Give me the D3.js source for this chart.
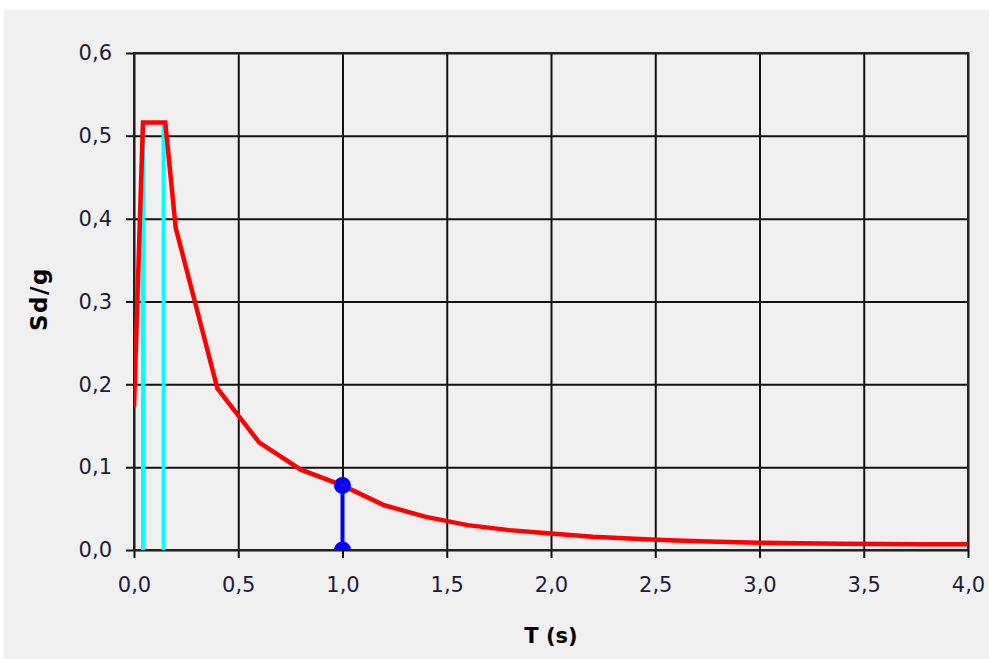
<!DOCTYPE html>
<html>
<head>
<meta charset="utf-8">
<script src="https://cdn.jsdelivr.net/npm/d3@7"></script>
<style>
  html, body { margin: 0; padding: 0; background: #ffffff; }
  svg { display: block; }
</style>
</head>
<body>
<svg id="chart" width="989" height="659"></svg>
<script>
// ---- data ----
const periodT = [0, 0.043, 0.15, 0.2, 0.4, 0.6, 0.8, 1.0, 1.2, 1.4, 1.6, 1.8, 2.0, 2.2, 2.4, 2.6, 2.8, 3.0, 3.2, 3.4, 3.6, 3.8, 4.0];
const spectrumSd = [0.172, 0.516, 0.516, 0.389, 0.195, 0.130, 0.097, 0.078, 0.054, 0.040, 0.030, 0.024, 0.020, 0.016, 0.0135, 0.0115, 0.010, 0.0088, 0.008, 0.0075, 0.0072, 0.007, 0.0068];
const cyanT = [0.043, 0.142];
const cyanTop = 0.516;
const markerT = 1.0;
const markerSd = 0.078;
const xTicks = [0, 0.5, 1.0, 1.5, 2.0, 2.5, 3.0, 3.5, 4.0];
const yTicks = [0, 0.1, 0.2, 0.3, 0.4, 0.5, 0.6];
const xTitle = "T (s)";
const yTitle = "Sd/g";

// ---- layout ----
const svg = d3.select("#chart");
const pL = 134, pR = 968, pT = 53, pB = 550;
const x = d3.scaleLinear().domain([0, 4]).range([pL, pR]);
const y = d3.scaleLinear().domain([0, 0.6]).range([pB, pT]);
const fmt = v => d3.format(".1f")(v).replace(".", ",");
const tickFont = "'DejaVu Sans', sans-serif";

svg.append("rect").attr("x", 4).attr("y", 10).attr("width", 985).attr("height", 649).attr("fill", "#f0f0f0");

const clipId = "plotclip";
svg.append("clipPath").attr("id", clipId).append("rect")
  .attr("x", pL).attr("y", pT).attr("width", pR - pL).attr("height", pB - pT);

// y axis with grid
const yAxis = d3.axisLeft(y).tickValues(yTicks).tickFormat(fmt)
  .tickSizeInner(-(pR - pL + 8)).tickSizeOuter(0).tickPadding(14);
const gy = svg.append("g").attr("transform", `translate(${pL - 8},0)`).call(yAxis);
gy.select(".domain").remove();
gy.selectAll(".tick line").attr("stroke", "#111").attr("stroke-width", 2);
gy.selectAll(".tick text").attr("fill", "#1c1c3a").style("font-family", tickFont).style("font-size", "21px");

// x axis with grid
const xAxis = d3.axisBottom(x).tickValues(xTicks).tickFormat(fmt)
  .tickSizeInner(-(pB - pT + 8)).tickSizeOuter(0).tickPadding(19);
const gx = svg.append("g").attr("transform", `translate(0,${pB + 8})`).call(xAxis);
gx.select(".domain").remove();
gx.selectAll(".tick line").attr("stroke", "#111").attr("stroke-width", 2);
gx.selectAll(".tick text").attr("fill", "#1c1c3a").style("font-family", tickFont).style("font-size", "21px");

// frame
svg.append("rect").attr("x", pL).attr("y", pT).attr("width", pR - pL).attr("height", pB - pT)
  .attr("fill", "none").attr("stroke", "#222").attr("stroke-width", 2);

const plot = svg.append("g").attr("clip-path", `url(#${clipId})`);

// cyan verticals
plot.selectAll("line.cyan").data(cyanT).join("line").attr("class", "cyan")
  .attr("x1", d => x(d)).attr("x2", d => x(d))
  .attr("y1", y(0)).attr("y2", y(cyanTop))
  .attr("stroke", "#00ffff").attr("stroke-width", 4);

// red spectrum
const pts = periodT.map((t, i) => [t, spectrumSd[i]]);
plot.append("path").datum(pts)
  .attr("d", d3.line().x(d => x(d[0])).y(d => y(d[1])))
  .attr("fill", "none").attr("stroke", "#ff0000").attr("stroke-width", 4.5).attr("stroke-linejoin", "miter");

// blue marker
plot.append("line").attr("x1", x(markerT)).attr("x2", x(markerT)).attr("y1", y(0)).attr("y2", y(markerSd))
  .attr("stroke", "#0000ff").attr("stroke-width", 4);
plot.selectAll("circle.mk").data([0, markerSd]).join("circle").attr("class", "mk")
  .attr("cx", x(markerT)).attr("cy", d => y(d)).attr("r", 8.5).attr("fill", "#0000ff");
plot.append("circle").attr("cx", x(markerT)).attr("cy", y(markerSd)).attr("r", 1).attr("fill", "#ff0000");

// titles
svg.append("text").attr("x", (pL + pR) / 2).attr("y", 643).attr("text-anchor", "middle")
  .style("font-family", "'DejaVu Sans', sans-serif").style("font-size", "21px").style("font-weight", "bold")
  .attr("fill", "#000").text(xTitle);
svg.append("text").attr("transform", `translate(47,299) rotate(-90)`).attr("text-anchor", "middle")
  .style("font-family", "'DejaVu Sans', sans-serif").style("font-size", "23px").style("font-weight", "bold")
  .style("letter-spacing", "1.5px")
  .attr("fill", "#000").text(yTitle);
</script>
</body>
</html>
